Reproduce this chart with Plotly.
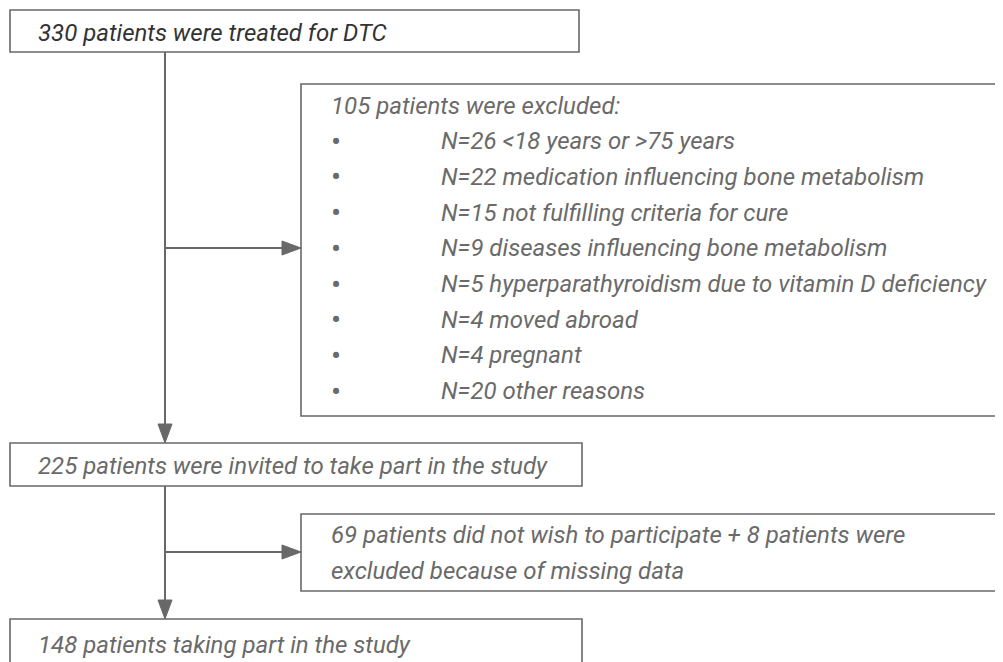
import plotly.graph_objects as go

# ---- data (text content) ----
treated_n = 330
excluded_n = 105
exclusion_counts = [26, 22, 15, 9, 5, 4, 4, 20]
exclusion_reasons = ["<18 years or >75 years",
                     "medication influencing bone metabolism",
                     "not fulfilling criteria for cure",
                     "diseases influencing bone metabolism",
                     "hyperparathyroidism due to vitamin D deficiency",
                     "moved abroad",
                     "pregnant",
                     "other reasons"]
invited_n = 225
declined_n = 69
missing_n = 8
participants_n = 148

# ---- layout geometry (page pixels, y downwards; body margin 8px) ----
OFF = 8
W, H = 1003 - OFF, 662 - OFF
LINE = "#686868"
TXT = "#6a6a6a"
TXT_DARK = "#333333"
FONT = "Roboto"
FS = 24

fig = go.Figure()
shapes = []
ann = []

def box(x0, y0, x1, y1):
    shapes.append(dict(type="rect", x0=x0, y0=y0, x1=x1, y1=y1,
                       line=dict(color=LINE, width=1.6), fillcolor="rgba(0,0,0,0)"))

def line(x0, y0, x1, y1):
    shapes.append(dict(type="line", x0=x0, y0=y0, x1=x1, y1=y1,
                       line=dict(color=LINE, width=2)))

def head_right(x, y, L=19, hw=7):
    shapes.append(dict(type="path", path=f"M {x-L},{y-hw} L {x},{y} L {x-L},{y+hw} Z",
                       fillcolor=LINE, line=dict(color=LINE, width=1)))

def head_down(x, y, L=19, hw=7):
    shapes.append(dict(type="path", path=f"M {x-hw},{y-L} L {x},{y} L {x+hw},{y-L} Z",
                       fillcolor=LINE, line=dict(color=LINE, width=1)))

def text(x, y, s, color=TXT):
    ann.append(dict(x=x, y=y, text=s, showarrow=False, xanchor="left", yanchor="middle",
                    font=dict(family=FONT, size=FS, color=color, style="italic")))

VX = 165
# boxes
box(10, 10, 579, 52)
box(301, 84, 1010, 416)
box(10, 443, 582, 486)
box(301, 514, 1010, 591)
box(10, 619, 582, 690)

# connectors
line(VX, 52, VX, 430)
head_down(VX, 443)
line(VX, 248, 290, 248)
head_right(301, 248)
line(VX, 486, VX, 606)
head_down(VX, 619)
line(VX, 552, 290, 552)
head_right(301, 552)

# texts
text(36, 33, f"{treated_n} patients were treated for DTC", TXT_DARK)
LS = 35.7
text(329, 105.5, f"{excluded_n} patients were excluded:")
for i, (n, r) in enumerate(zip(exclusion_counts, exclusion_reasons)):
    y = 105.5 + LS * (i + 1)
    ann.append(dict(x=336, y=y, text="•", showarrow=False, xanchor="center", yanchor="middle",
                    font=dict(family=FONT, size=30, color=TXT)))
    text(439, y, f"N={n} {r}")
text(36, 466, f"{invited_n} patients were invited to take part in the study")
text(329, 535, f"{declined_n} patients did not wish to participate + {missing_n} patients were")
text(329, 571, "excluded because of missing data")
text(36, 645, f"{participants_n} patients taking part in the study")

fig.update_layout(
    width=W, height=H, margin=dict(l=0, r=0, t=0, b=0),
    paper_bgcolor="white", plot_bgcolor="white",
    xaxis=dict(range=[OFF, W + OFF], visible=False, fixedrange=True),
    yaxis=dict(range=[H + OFF, OFF], visible=False, fixedrange=True),
    shapes=shapes, annotations=ann, showlegend=False,
)
fig.write_html("out.html", config={"displayModeBar": False})
